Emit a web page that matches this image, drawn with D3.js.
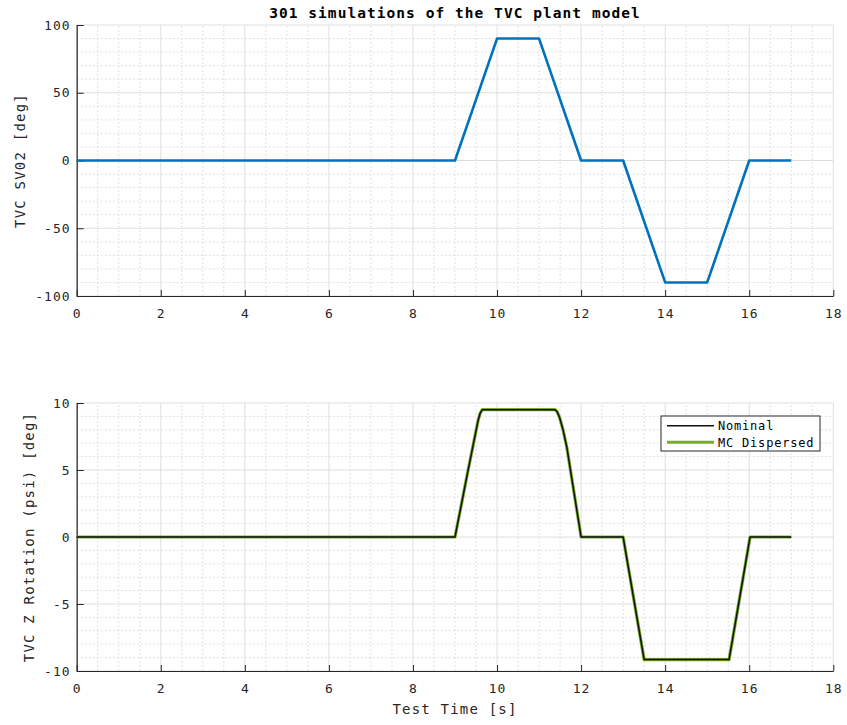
<!DOCTYPE html>
<html>
<head>
  <meta charset="utf-8">
  <title>TVC plant model</title>
  <script src="https://d3js.org/d3.v7.min.js"></script>
  <style>
    body { margin: 0; background: #fff; }
    text { font-family: "DejaVu Sans Mono", monospace; fill: #262626; }
    .tick-label { font-size: 13px; letter-spacing: 1.05px; }
    .ax-label { font-size: 14px; letter-spacing: 1.2px; }
    .title { font-size: 14.5px; font-weight: bold; letter-spacing: 1.05px; fill: #000; }
    .legend-text { font-size: 12px; letter-spacing: 0.8px; fill: #000; }
  </style>
</head>
<body>
  <svg id="chart"></svg>
  <script>
    // top plot: servo command (deg)
    var svTime = [0, 9, 10, 11, 12, 13, 14, 15, 16, 17];
    var svValue = [0, 0, 90, 90, 0, 0, -90, -90, 0, 0];

    // bottom plot: Z rotation, nominal run
    var rotTime = [0, 9.0, 9.3, 9.55, 9.6, 9.65, 11.38, 11.43, 11.49, 11.57, 11.66, 12.0, 13.0, 13.5, 15.52, 16.02, 17.0];
    var rotNominal = [0, 0, 4.8, 8.7, 9.25, 9.5, 9.5, 9.35, 8.9, 8.0, 6.7, 0, 0, -9.15, -9.15, 0, 0];
    // MC dispersed runs lie on top of the nominal one
    var rotDispersed = [0, 0, 4.8, 8.7, 9.25, 9.5, 9.5, 9.35, 8.9, 8.0, 6.7, 0, 0, -9.15, -9.15, 0, 0];

    var xTicks = [0, 2, 4, 6, 8, 10, 12, 14, 16, 18];
    var svTicks = [-100, -50, 0, 50, 100];
    var rotTicks = [-10, -5, 0, 5, 10];
    var legendNames = ["Nominal", "MC Dispersed"];

    var width = 847, height = 725;
    var svg = d3.select("#chart").attr("width", width).attr("height", height);

    var x = d3.scaleLinear().domain([0, 18]).range([76.7, 833.3]);

    function drawAxes(y, yTicks, minorStep, ylabel, ylabelX) {
      var g = svg.append("g");
      var x0 = x.range()[0], x1 = x.range()[1];
      var yb = y.range()[0], yt = y.range()[1];

      // minor grid
      d3.range(0, 18.001, 0.5).filter(d => d % 2 !== 0).forEach(function(d) {
        g.append("line").attr("x1", x(d)).attr("x2", x(d)).attr("y1", yb).attr("y2", yt)
          .attr("stroke", "#e0e0e0").attr("stroke-dasharray", "2,2");
      });
      var yd = y.domain();
      d3.range(yd[0], yd[1] + 0.001, minorStep).filter(d => yTicks.indexOf(d) < 0).forEach(function(d) {
        g.append("line").attr("x1", x0).attr("x2", x1).attr("y1", y(d)).attr("y2", y(d))
          .attr("stroke", "#e0e0e0").attr("stroke-dasharray", "2,2");
      });
      // major grid
      xTicks.forEach(function(d) {
        g.append("line").attr("x1", x(d)).attr("x2", x(d)).attr("y1", yb).attr("y2", yt)
          .attr("stroke", "#dedede");
      });
      yTicks.forEach(function(d) {
        g.append("line").attr("x1", x0).attr("x2", x1).attr("y1", y(d)).attr("y2", y(d))
          .attr("stroke", "#dedede");
      });

      // axes (ticks inside, MATLAB style)
      var xAxis = g.append("g").attr("transform", "translate(0," + yb + ")")
        .call(d3.axisBottom(x).tickValues(xTicks).tickFormat(d => String(d))
          .tickSizeInner(-6).tickSizeOuter(0).tickPadding(10));
      var yAxis = g.append("g").attr("transform", "translate(" + x0 + ",0)")
        .call(d3.axisLeft(y).tickValues(yTicks).tickFormat(d => String(d))
          .tickSizeInner(-7).tickSizeOuter(0).tickPadding(6));
      [xAxis, yAxis].forEach(function(a) {
        a.select(".domain").attr("stroke", "#262626").attr("stroke-width", 1.2);
        a.selectAll(".tick line").attr("stroke", "#262626");
        a.selectAll(".tick text").attr("class", "tick-label").attr("fill", "#262626")
          .style("font-family", "DejaVu Sans Mono");
      });
      xAxis.selectAll(".tick text").attr("dy", "0.9em");

      g.append("text").attr("class", "ax-label")
        .attr("transform", "translate(" + ylabelX + "," + ((yb + yt) / 2) + ") rotate(-90)")
        .attr("text-anchor", "middle").attr("dy", "0.35em")
        .text(ylabel);
      return g;
    }

    // ---- top subplot
    var yTop = d3.scaleLinear().domain([-100, 100]).range([296, 25]);
    drawAxes(yTop, svTicks, 10, "TVC SV02 [deg]", 20);

    var line1 = d3.line().x((d, i) => x(svTime[i])).y(d => yTop(d));
    svg.append("path").datum(svValue).attr("d", line1)
      .attr("fill", "none").attr("stroke", "#0072BD").attr("stroke-width", 2.6)
      .attr("stroke-linejoin", "round");

    svg.append("text").attr("class", "title")
      .attr("x", (x.range()[0] + x.range()[1]) / 2).attr("y", 18)
      .attr("text-anchor", "middle")
      .text("301 simulations of the TVC plant model");

    // ---- bottom subplot
    var yBot = d3.scaleLinear().domain([-10, 10]).range([671, 403]);
    drawAxes(yBot, rotTicks, 1, "TVC Z Rotation (psi) [deg]", 29);

    var line2 = d3.line().x((d, i) => x(rotTime[i])).y(d => yBot(d));
    svg.append("path").datum(rotDispersed).attr("d", line2)
      .attr("fill", "none").attr("stroke", "#77AC30").attr("stroke-width", 3.2)
      .attr("stroke-linejoin", "round");
    svg.append("path").datum(rotNominal).attr("d", line2)
      .attr("fill", "none").attr("stroke", "#111").attr("stroke-width", 1.5)
      .attr("stroke-linejoin", "round");

    svg.append("text").attr("class", "ax-label")
      .attr("x", (x.range()[0] + x.range()[1]) / 2).attr("y", 709)
      .attr("text-anchor", "middle").attr("dy", "0.35em")
      .text("Test Time [s]");

    // legend
    var lg = svg.append("g").attr("transform", "translate(661,416)");
    lg.append("rect").attr("width", 159).attr("height", 35)
      .attr("fill", "#fff").attr("stroke", "#262626").attr("stroke-width", 1);
    var legendColors = ["#111", "#77AC30"];
    var legendWidths = [1.5, 3];
    legendNames.forEach(function(name, i) {
      var yy = 9.7 + i * 16.6;
      lg.append("line").attr("x1", 6).attr("x2", 53).attr("y1", yy).attr("y2", yy)
        .attr("stroke", legendColors[i]).attr("stroke-width", legendWidths[i]);
      lg.append("text").attr("class", "legend-text").attr("x", 57).attr("y", yy)
        .attr("dy", "0.35em").text(name);
    });
  </script>
</body>
</html>
